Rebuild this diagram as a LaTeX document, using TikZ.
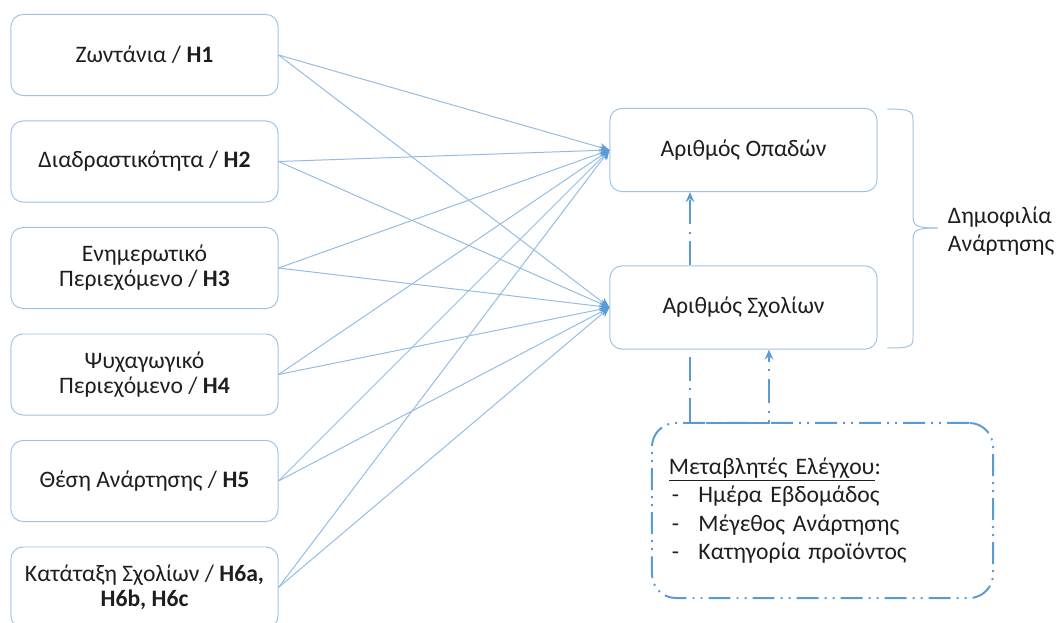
\documentclass[tikz,border=0pt]{standalone}
\usepackage{fontspec}
\setmainfont{Carlito}
\usepackage{xcolor}
\usetikzlibrary{arrows.meta}
\definecolor{paleblue}{RGB}{157,195,230}
\definecolor{linkblue}{RGB}{148,188,226}
\definecolor{deepblue}{RGB}{91,155,213}
\definecolor{ink}{RGB}{30,30,30}

\tikzset{
  factor/.style={draw=paleblue, line width=0.7pt, rounded corners=8.5pt,
    minimum width=6.675cm, minimum height=2.025cm, align=center, text=ink,
    font=\fontsize{16.8}{17.8}\selectfont},
  outcome/.style={factor, minimum height=2.08cm},
  link/.style={draw=linkblue, line width=0.7pt,
    -{Stealth[length=7pt, width=6pt, color=deepblue]}},
  ctrllink/.style={draw=deepblue, line width=1.4pt,
    dash pattern=on 17pt off 5.5pt on 1.4pt off 5.5pt},
  ctrlbox/.style={draw=deepblue, line width=1.4pt, rounded corners=17pt,
    dash pattern=on 15.6pt off 4.3pt on 1.4pt off 4.3pt on 1.4pt off 4.3pt,
    text width=7.675cm, inner xsep=0.425cm, minimum height=4.375cm,
    align=left, text=ink, font=\fontsize{16.8}{20.3}\selectfont}
}

\begin{document}
\begin{tikzpicture}[x=0.025cm, y=-0.025cm]
    \useasboundingbox (0,0) rectangle (1057,623);

    % Independent variables
    \node[factor] (h1) at (144.5,55) {Ζωντάνια / \textbf{H1}};
    \node[factor] (h2) at (144.5,161.5) {Διαδραστικότητα / \textbf{H2}};
    \node[factor] (h3) at (144.5,268) {Ενημερωτικό\\Περιεχόμενο / \textbf{H3}};
    \node[factor] (h4) at (144.5,374.5) {Ψυχαγωγικό\\Περιεχόμενο / \textbf{H4}};
    \node[factor] (h5) at (144.5,481) {Θέση Ανάρτησης / \textbf{H5}};
    \node[factor] (h6) at (144.5,587.5) {Κατάταξη Σχολίων / \textbf{H6a,}\\\textbf{H6b, H6c}};

    % Dependent variables
    \node[outcome] (opad) at (743.5,150) {Αριθμός Οπαδών};
    \node[outcome] (sxol) at (743.5,307.5) {Αριθμός Σχολίων};

    % Hypotheses towards followers
    \draw[link] (h1.east) -- (opad.west);
    \draw[link] (h2.east) -- (opad.west);
    \draw[link] (h3.east) -- (opad.west);
    \draw[link] (h4.east) -- (opad.west);
    \draw[link] (h5.east) -- (opad.west);
    \draw[link] (h6.east) -- (opad.west);

    % Hypotheses towards comments
    \draw[link] (h1.east) -- (sxol.west);
    \draw[link] (h2.east) -- (sxol.west);
    \draw[link] (h3.east) -- (sxol.west);
    \draw[link] (h4.east) -- (sxol.west);
    \draw[link] (h5.east) -- (sxol.west);
    \draw[link] (h6.east) -- (sxol.west);

    % Control variables
    \node[ctrlbox] (ctrl) at (822.5,510.5) {\underline{Μεταβλητές Ελέγχου}:\\
        \makebox[21pt][l]{\hspace{2pt}-}Ημέρα Εβδομάδος\\
        \makebox[21pt][l]{\hspace{2pt}-}Μέγεθος Ανάρτησης\\
        \makebox[21pt][l]{\hspace{2pt}-}Κατηγορία προϊόντος};
    \coordinate (ca) at (690,423);
    \coordinate (cb) at (769,423);

    % Dash-dot links
    \draw[ctrllink, -{Stealth[length=7pt, width=6pt]}] (sxol.north -| ca) -- (opad.south -| ca);
    \draw[ctrllink, shorten <=5pt, -{Stealth[length=7pt, width=6pt]}] (ca |- sxol.south) -- (ca) -- (cb) -- (cb |- sxol.south);

    % Popularity brace
    \draw[paleblue, line width=0.7pt] (887,109) .. controls (913,109) and (913,112) .. (913,122)
        -- (913,216) .. controls (913,226) and (916,228) .. (938,228);
    \draw[paleblue, line width=0.7pt] (938,228) .. controls (916,228) and (913,230) .. (913,240)
        -- (913,336) .. controls (913,346) and (913,348) .. (887,348);
    \node[anchor=west, align=left, text=ink, font=\fontsize{16.8}{19.9}\selectfont] (pop) at (943,231) {Δημοφιλία\\Ανάρτησης};
\end{tikzpicture}
\end{document}
